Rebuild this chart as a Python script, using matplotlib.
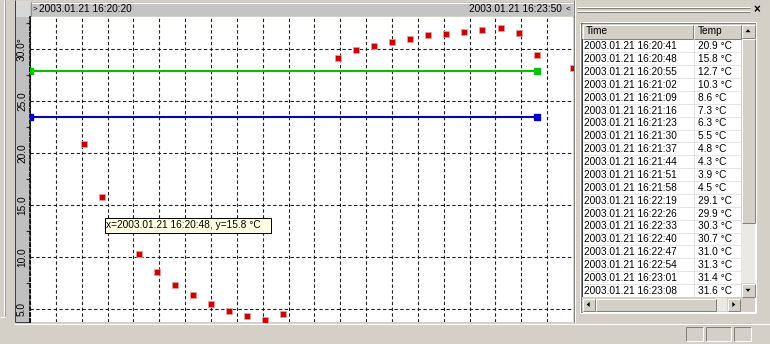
import matplotlib.pyplot as plt
from matplotlib.patches import Rectangle, Polygon

plt.rcParams['font.family'] = ['Liberation Sans', 'DejaVu Sans']

W, H = 770, 344
FS = 7.3
WIN = '#d4d0c8'
PX = 0.72  # one screen pixel in points at dpi=100

# ---- data ---------------------------------------------------------------
DATE = "2003.01.21"
t_start = "16:20:20"
t_end = "16:23:50"

times = ["16:20:41", "16:20:48", "16:20:55", "16:21:02", "16:21:09", "16:21:16",
         "16:21:23", "16:21:30", "16:21:37", "16:21:44", "16:21:51", "16:21:58",
         "16:22:19", "16:22:26", "16:22:33", "16:22:40", "16:22:47", "16:22:54",
         "16:23:01", "16:23:08", "16:23:15", "16:23:22", "16:23:29", "16:23:36",
         "16:23:50"]
temps = [20.9, 15.8, 12.7, 10.3, 8.6, 7.3, 6.3, 5.5, 4.8, 4.3, 3.9, 4.5,
         29.1, 29.9, 30.3, 30.7, 31.0, 31.3, 31.4, 31.6, 31.8, 32.0, 31.5, 29.4,
         28.2]

limit_end = "16:23:36"
upper_limit = 27.85
lower_limit = 23.5

y_ticks = [5, 10, 15, 20, 25, 30]
y_tick_labels = ["5.0", "10.0", "15.0", "20.0", "25.0", "30.0°"]
y_minor = [7.5, 12.5, 17.5, 22.5, 27.5, 32.5]
y_range = (3.75, 33.07)
grid_step = 10  # seconds

table_rows = 20
tip_time, tip_value = "16:20:48", 15.8


def secs(hms):
    h, m, s = (int(p) for p in hms.split(':'))
    return h * 3600 + m * 60 + s


def px_box(x0, y0, x1, y1):
    return [x0 / W, 1 - y1 / H, (x1 - x0) / W, (y1 - y0) / H]


fig = plt.figure(figsize=(W / 100, H / 100), dpi=100)
fig.patch.set_facecolor(WIN)

# ---- window chrome (pixel coordinates, y down) ---------------------------
ui = fig.add_axes([0, 0, 1, 1], zorder=0)
ui.set_xlim(0, W)
ui.set_ylim(H, 0)
ui.set_axis_off()


def rect(ax, x0, y0, x1, y1, fc, ec='none', lw=1, z=1):
    ax.add_patch(Rectangle((x0, y0), x1 - x0, y1 - y0, fc=fc, ec=ec,
                           lw=lw * PX, zorder=z))


def line(ax, xs, ys, color, lw=1, z=2):
    ax.plot(xs, ys, color=color, lw=lw * PX, solid_capstyle='butt', zorder=z)


def bevel(ax, x0, y0, x1, y1, fc=WIN, raised=True, z=2):
    rect(ax, x0, y0, x1, y1, fc, z=z)
    hi, lo = ('white', '#808080') if raised else ('#808080', 'white')
    line(ax, [x0 + .5, x1 - .5], [y0 + .5, y0 + .5], hi, z=z + .1)
    line(ax, [x0 + .5, x0 + .5], [y0 + .5, y1 - .5], hi, z=z + .1)
    line(ax, [x0 + .5, x1 - .5], [y1 - .5, y1 - .5], lo, z=z + .1)
    line(ax, [x1 - .5, x1 - .5], [y0 + .5, y1 - .5], lo, z=z + .1)


def arrow(ax, cx, cy, direction):
    s = 2.5
    pts = {'up': [(cx - s, cy + 1.2), (cx + s, cy + 1.2), (cx, cy - 1.8)],
           'down': [(cx - s, cy - 1.2), (cx + s, cy - 1.2), (cx, cy + 1.8)],
           'left': [(cx + 1.2, cy - s), (cx + 1.2, cy + s), (cx - 1.8, cy)],
           'right': [(cx - 1.2, cy - s), (cx - 1.2, cy + s), (cx + 1.8, cy)]}
    ax.add_patch(Polygon(pts[direction], closed=True, fc='black', ec='none', zorder=4))


# left frame
line(ui, [3.5, 3.5], [0, 316], 'white')
line(ui, [4.5, 4.5], [0, 316], '#a0a0a0')
line(ui, [0, 4.5], [316.5, 316.5], 'white')
line(ui, [14.5, 14.5], [0, 322], '#404040')

# top time bar and y-axis strip
rect(ui, 15, 1, 30, 17, '#d8d8d8')
rect(ui, 30, 2, 573, 16, '#c4c4c4')
line(ui, [30, 573], [2.5, 2.5], 'white')
line(ui, [30, 573], [16.5, 16.5], '#808080')
line(ui, [30.5, 30.5], [2, 17], '#909090')
rect(ui, 15, 17, 30, 322, '#c0c0c0')
line(ui, [15, 30], [321.5, 321.5], '#404040')
line(ui, [14, W], [323.5, 323.5], 'white')

ui.text(33, 9, '>', fontsize=FS - 1.5, va='center', ha='left')
ui.text(39, 9, f"{DATE} {t_start}", fontsize=FS, va='center', ha='left')
ui.text(562, 9, f"{DATE} {t_end}", fontsize=FS, va='center', ha='right')
ui.text(566, 9, '<', fontsize=FS - 1.5, va='center', ha='left')

# right docked panel
line(ui, [573.5, 573.5], [0, 322], '#808080')
line(ui, [574.5, 574.5], [0, 322], 'white')
for gy in (6.5, 10.5):
    line(ui, [577, 750], [gy, gy], 'white')
    line(ui, [577, 750], [gy + 1, gy + 1], '#808080')
ui.text(757, 10, '×', fontsize=FS + 1, fontweight='bold', va='center', ha='center')

# list view
rect(ui, 580, 22, 756, 313, 'white', z=1)
line(ui, [580.5, 580.5], [22, 313], '#808080')
line(ui, [580, 756], [22.5, 22.5], '#808080')
line(ui, [581.5, 581.5], [23, 312], '#404040')
line(ui, [581, 755], [23.5, 23.5], '#404040')
line(ui, [755.5, 755.5], [22, 313], 'white')
line(ui, [580, 756], [312.5, 312.5], 'white')

col_x0, col_div, col_x1 = 582, 693, 741
bevel(ui, col_x0, 24, col_div, 39)
bevel(ui, col_div, 24, col_x1, 39)
ui.text(586, 31.5, 'Time', fontsize=FS, va='center')
ui.text(698, 31.5, 'Temp', fontsize=FS, va='center')

row_top, row_h = 39.5, 12.87
for i, (t, v) in enumerate(zip(times[:table_rows], temps[:table_rows])):
    y0 = row_top + i * row_h
    ui.text(584, y0 + row_h / 2 + 0.3, f"{DATE} {t}", fontsize=FS, va='center')
    ui.text(698, y0 + row_h / 2 + 0.3, f"{v:.1f} °C", fontsize=FS, va='center')
    line(ui, [col_x0, col_x1], [y0 + row_h, y0 + row_h], '#e4e4e4', z=1.5)
line(ui, [col_div + .5, col_div + .5], [39, 297], '#e4e4e4', z=1.5)

# vertical scrollbar
rect(ui, col_x1, 24, 755, 297, '#ebe9e4', z=2)
bevel(ui, col_x1, 24, 755, 38)
arrow(ui, 748, 31, 'up')
bevel(ui, col_x1, 38, 755, 223)
bevel(ui, col_x1, 283, 755, 297)
arrow(ui, 748, 290, 'down')

# horizontal scrollbar
rect(ui, 582, 297, 755, 312, WIN, z=2)
rect(ui, 595, 298, 727, 311, '#ebe9e4', z=2)
bevel(ui, 582, 298, 595, 311)
arrow(ui, 588.5, 304.5, 'left')
bevel(ui, 595, 298, 716, 311)
bevel(ui, 727, 298, 740, 311)
arrow(ui, 733.5, 304.5, 'right')

# status bar panes
for x0, x1 in [(685, 703), (705, 731), (733, 751)]:
    bevel(ui, x0, 326, x1, 341, raised=False)

# ---- chart ---------------------------------------------------------------
ax = fig.add_axes(px_box(30, 17, 573, 322), zorder=1)
ax.set_facecolor('white')
x0, x1 = secs(t_start), secs(t_end)
ax.set_xlim(x0, x1)
ax.set_ylim(*y_range)

ax.set_xticks(range(x0, x1, grid_step))
ax.set_yticks(y_ticks)
ax.set_yticks(y_minor, minor=True)
ax.grid(True, which='major', color='#202020', lw=0.8, ls=(0, (3, 2.2)))
ax.tick_params(axis='x', length=0, labelbottom=False)
ax.tick_params(axis='y', which='major', length=0, labelleft=False)
ax.tick_params(axis='y', which='minor', length=3, width=0.8, color='#303030',
               direction='out')
for side in ('top', 'right', 'bottom'):
    ax.spines[side].set_visible(False)
ax.spines['left'].set_linestyle((0, (2, 1.5)))
ax.spines['left'].set_linewidth(1.2)
ax.spines['left'].set_color('black')

for val, lab in zip(y_ticks, y_tick_labels):
    ax.text(-8 / 543, val, lab, transform=ax.get_yaxis_transform(),
            rotation=90, ha='center', va='center', fontsize=FS, clip_on=False)

xs = [secs(t) for t in times]
lim_x = [x0, secs(limit_end)]
ax.plot(lim_x, [upper_limit] * 2, color='#00c000', lw=1.5, marker='s',
        ms=4.3, mec='#00c000', zorder=3)
ax.plot(lim_x, [lower_limit] * 2, color='#0000c0', lw=1.5, marker='s',
        ms=4.3, mec='#0000c0', zorder=3)
ax.plot(xs, temps, ls='none', marker='s', ms=4.6, mfc='#c80000',
        mec='#eda0a0', mew=0.5, zorder=4)

# ---- hover tooltip -------------------------------------------------------
top = fig.add_axes([0, 0, 1, 1], zorder=2)
top.set_xlim(0, W)
top.set_ylim(H, 0)
top.set_axis_off()
rect(top, 104.5, 217.5, 270.5, 232.5, '#ffffe1', ec='black', z=5)
top.text(106, 225.3, f"x={DATE} {tip_time}, y={tip_value} °C", fontsize=FS,
         va='center', ha='left', zorder=6)

fig.savefig('out.png', dpi=100, facecolor=fig.get_facecolor())
